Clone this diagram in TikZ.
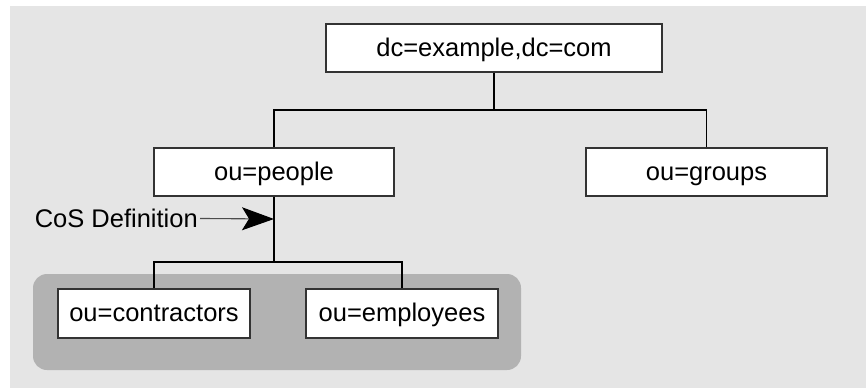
\documentclass[tikz,border=0pt]{standalone}
\usepackage{fontspec}
\setmainfont{Liberation Sans}
\usetikzlibrary{arrows.meta}
\begin{document}
\begin{tikzpicture}[x=1pt,y=-1pt,
  entry/.style={draw=black!80, fill=white, line width=1.2pt, minimum height=48pt,
    inner sep=0pt, text height=20pt, text depth=4pt, font=\fontsize{25.5}{30}\selectfont},
  link/.style={draw=black, line width=1.1pt},
  label/.style={inner sep=2pt, font=\fontsize{25.5}{30}\selectfont},
  pointer/.style={draw=black!70, line width=1.1pt,
    -{Stealth[length=32pt,width=23pt,inset=7pt,color=black,fill=black]}}]
\useasboundingbox (0,0) rectangle (866,388);
\fill[black!10] (10,6) rectangle (866,388);
\fill[black!30, rounded corners=14pt] (33,274) rectangle (521,370);
\node[entry, minimum width=336pt] (root) at (494,48) {dc=example,dc=com};
\node[entry, minimum width=240pt] (people) at (274,172) {ou=people};
\node[entry, minimum width=241pt] (groups) at (706.5,172) {ou=groups};
\node[entry, minimum width=192pt, minimum height=49pt] (contractors) at (154,313.5) {ou=contractors};
\node[entry, minimum width=192pt, minimum height=49pt] (employees) at (402,313.5) {ou=employees};
\coordinate (j1) at (494,110);
\coordinate (j2) at (274,262);
\draw[link] (root.south) -- (j1);
\draw[link] (people.north) |- (j1) -| (groups.north);
\draw[link] (people.south) -- (j2);
\draw[link] (contractors.north) |- (j2) -| (employees.north);
\node[label, anchor=base east] (cos) at (200,227) {CoS Definition};
\coordinate (tip) at (274,219);
\draw[pointer] (cos) -- (tip);
\end{tikzpicture}
\end{document}
